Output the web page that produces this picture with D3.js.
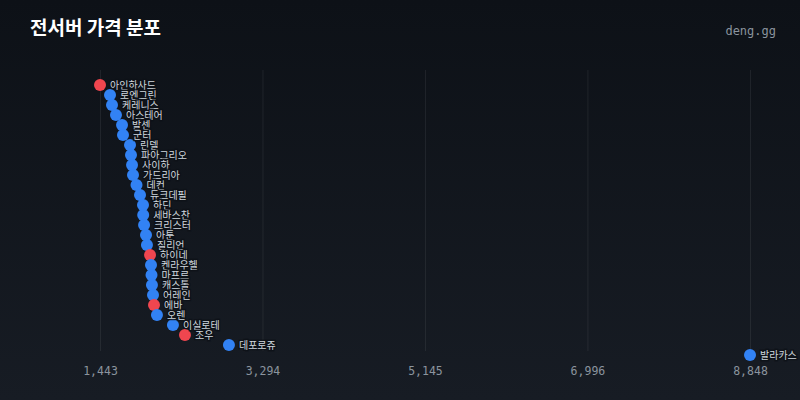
<!DOCTYPE html>
<html>
<head>
<meta charset="utf-8">
<script src="https://cdn.jsdelivr.net/npm/d3@7"></script>
<style>
  body { margin: 0; background: #0d1117; }
  svg { display: block; }
</style>
</head>
<body>
<div id="chart"></div>
<script>
// server names, sorted by price
const servers = ["아인하사드", "로엔그린", "케레니스", "아스테어", "발센", "군터", "린델", "파아그리오",
  "사이하", "가드리아", "데컨", "듀크데필", "하딘", "세바스찬", "크리스터", "아툰", "질리언",
  "하이네", "켄라우헬", "마프르", "캐스톨", "어레인", "에바", "오렌", "이실로테", "조우", "데포로쥬", "발라카스"];
const prices = [1443, 1557, 1580, 1625, 1694, 1705, 1785, 1796, 1808, 1819, 1859, 1899, 1933, 1935,
  1945, 1967, 1978, 2013, 2024, 2030, 2035, 2047, 2058, 2092, 2274, 2411, 2912, 8848];
const highlighted = ["아인하사드", "하이네", "에바", "조우"];
const tickVals = [1443, 3294, 5145, 6996, 8848];

const width = 800, height = 400;

let svg = d3.select("#chart")
    .append("svg")
    .attr("width", width)
    .attr("height", height);

let defs = svg.append("defs");
let grad = defs.append("linearGradient")
    .attr("id", "bg")
    .attr("x1", 0).attr("y1", 0).attr("x2", 0).attr("y2", 1);
grad.append("stop").attr("offset", "0%").attr("stop-color", "#0d1117");
grad.append("stop").attr("offset", "100%").attr("stop-color", "#171c24");

svg.append("rect")
    .attr("width", width)
    .attr("height", height)
    .attr("fill", "url(#bg)");

let data = servers.map((s, i) => ({ name: s, price: prices[i] }));

let x = d3.scaleLinear()
    .domain([d3.min(prices), d3.max(prices)])
    .range([100, 750]);

let y = d3.scalePoint()
    .domain(servers)
    .range([85, 355]);

// grid
svg.append("g")
    .selectAll("line")
    .data(tickVals)
    .enter()
    .append("line")
    .attr("x1", d => x(d) + 0.5)
    .attr("x2", d => x(d) + 0.5)
    .attr("y1", 70)
    .attr("y2", 351)
    .attr("stroke", "rgba(255,255,255,0.07)")
    .attr("stroke-width", 1);

// x axis
let axis = svg.append("g")
    .attr("transform", "translate(0,371)")
    .call(d3.axisBottom(x).tickValues(tickVals).tickSize(0).tickPadding(0).tickFormat(d3.format(",")));
axis.select(".domain").remove();
axis.selectAll("text")
    .attr("fill", "#8b949e")
    .attr("dy", "0.32em")
    .style("font-family", "'DejaVu Sans Mono', monospace")
    .style("font-size", "11.5px");

// dots
svg.append("g")
    .selectAll("circle")
    .data(data)
    .enter()
    .append("circle")
    .attr("cx", d => x(d.price))
    .attr("cy", d => y(d.name))
    .attr("r", 6)
    .attr("fill", d => highlighted.includes(d.name) ? "#f0464f" : "#3282f4");

// labels
svg.append("g")
    .selectAll("text")
    .data(data)
    .enter()
    .append("text")
    .attr("x", d => x(d.price) + 10)
    .attr("y", d => y(d.name))
    .attr("dy", "0.35em")
    .attr("fill", "#d0d7de")
    .attr("stroke", "#0d1117")
    .attr("stroke-width", 3)
    .attr("stroke-opacity", 0.8)
    .style("paint-order", "stroke")
    .style("font-family", "'Noto Sans CJK KR', sans-serif")
    .style("font-size", "10px")
    .text(d => d.name);

// title
svg.append("text")
    .attr("x", 30)
    .attr("y", 35)
    .attr("fill", "#ffffff")
    .style("font-family", "'Noto Sans CJK KR', sans-serif")
    .style("font-weight", "bold")
    .style("font-size", "19px")
    .text("전서버 가격 분포");

svg.append("text")
    .attr("x", 776)
    .attr("y", 35)
    .attr("text-anchor", "end")
    .attr("fill", "#8b949e")
    .style("font-family", "'DejaVu Sans Mono', monospace")
    .style("font-size", "12px")
    .text("deng.gg");
</script>
</body>
</html>
